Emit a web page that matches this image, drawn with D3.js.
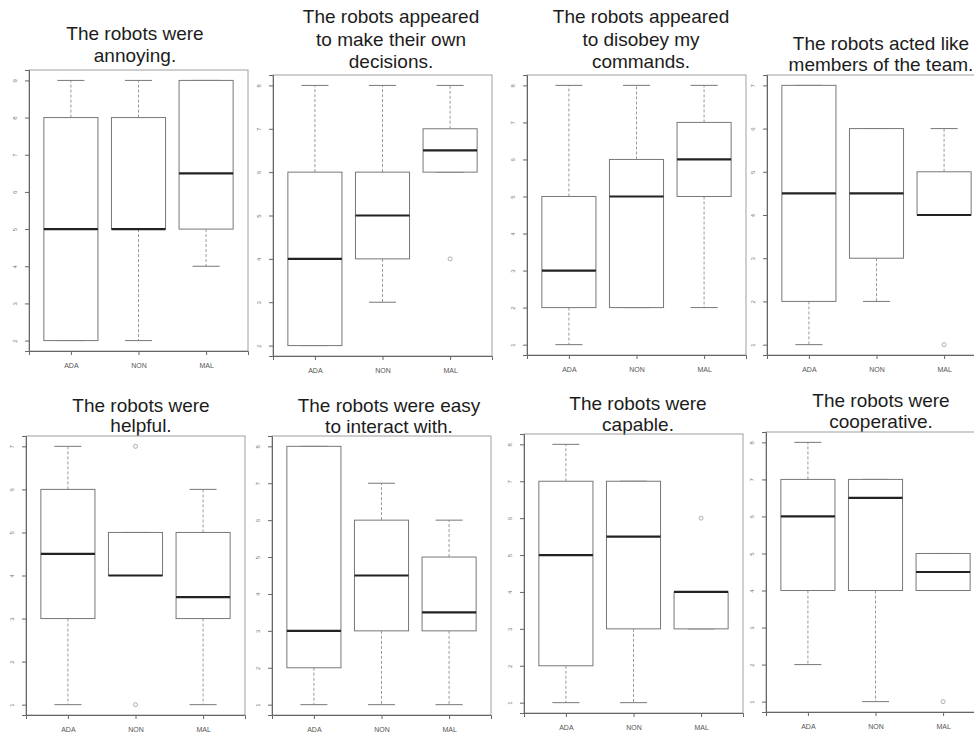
<!DOCTYPE html>
<html>
<head>
<meta charset="utf-8">
<script src="https://cdn.jsdelivr.net/npm/d3@7"></script>
<style>
  body { margin: 0; background: #fff; }
  svg { display: block; }
</style>
</head>
<body>
<div id="chart"></div>
<script>

// data
var groups = ["ADA", "NON", "MAL"];

var titles = [
  ["The robots were", "annoying."],
  ["The robots appeared", "to make their own", "decisions."],
  ["The robots appeared", "to disobey my", "commands."],
  ["The robots acted like", "members of the team."],
  ["The robots were", "helpful."],
  ["The robots were easy", "to interact with."],
  ["The robots were", "capable."],
  ["The robots were", "cooperative."]
];

var yMin = [2, 2, 1, 1, 1, 1, 1, 1];
var yMax = [9, 8, 8, 7, 7, 8, 8, 8];

// one row per panel, one value per group (ADA, NON, MAL)
var whiskerLow  = [[2, 2, 4], [2, 3, 6], [1, 2, 2], [1, 2, 4], [1, 4, 1], [1, 1, 1], [1, 1, 3], [2, 1, 4]];
var q1          = [[2, 5, 5], [2, 4, 6], [2, 2, 5], [2, 3, 4], [3, 4, 3], [2, 3, 3], [2, 3, 3], [4, 4, 4]];
var median      = [[5, 5, 6.5], [4, 5, 6.5], [3, 5, 6], [4.5, 4.5, 4], [4.5, 4, 3.5], [3, 4.5, 3.5], [5, 5.5, 4], [6, 6.5, 4.5]];
var q3          = [[8, 8, 9], [6, 6, 7], [5, 6, 7], [7, 6, 5], [6, 5, 5], [8, 6, 5], [7, 7, 4], [7, 7, 5]];
var whiskerHigh = [[9, 9, 9], [8, 8, 8], [8, 8, 8], [7, 6, 6], [7, 5, 6], [8, 7, 6], [8, 7, 4], [8, 7, 5]];
var outliers    = [[[], [], []], [[], [], [4]], [[], [], []], [[], [], [1]],
                   [[], [7, 1], []], [[], [], []], [[], [], [6]], [[], [], [1]]];

// where each pasted-in plot sits on the page
var panels = [
  {x0: 29,  x1: 248, y0: 70,  y1: 351, tx: 135, ty: [40, 62]},
  {x0: 273, x1: 492, y0: 75,  y1: 356, tx: 391, ty: [23, 46, 68]},
  {x0: 527, x1: 746, y0: 75,  y1: 355, tx: 641, ty: [23, 46, 68]},
  {x0: 767, x1: 986, y0: 75,  y1: 355, tx: 881, ty: [50, 71]},
  {x0: 26,  x1: 245, y0: 436, y1: 715, tx: 141, ty: [412, 432]},
  {x0: 272, x1: 491, y0: 436, y1: 715, tx: 389, ty: [412, 433]},
  {x0: 524, x1: 743, y0: 434, y1: 713, tx: 638, ty: [410, 431]},
  {x0: 766, x1: 985, y0: 432, y1: 712, tx: 881, ty: [407, 428]}
];

var width = 974, height = 737;

var svg = d3.select("#chart")
    .append("svg")
    .attr("width", width)
    .attr("height", height);

panels.forEach(function(p, i) {
    var g = svg.append("g");

    // R style: 4% padding on both axes
    var x = d3.scaleLinear()
        .domain([0.5 - 0.12, 3.5 + 0.12])
        .range([p.x0, p.x1]);
    var r = yMax[i] - yMin[i];
    var y = d3.scaleLinear()
        .domain([yMin[i] - 0.04 * r, yMax[i] + 0.04 * r])
        .range([p.y1, p.y0]);

    // title
    g.append("text")
        .attr("text-anchor", "middle")
        .attr("font-family", "Liberation Sans, Arial, sans-serif")
        .attr("font-size", 19)
        .attr("fill", "#1c1c1c")
        .selectAll("tspan")
        .data(titles[i])
        .enter()
        .append("tspan")
        .attr("x", p.tx)
        .attr("y", function(d, k) { return p.ty[k]; })
        .text(function(d) { return d; });

    // frame
    g.append("rect")
        .attr("x", p.x0)
        .attr("y", p.y0)
        .attr("width", p.x1 - p.x0)
        .attr("height", p.y1 - p.y0)
        .attr("fill", "none")
        .attr("stroke", "#a0a0a0")
        .attr("stroke-width", 1);

    // y axis
    var yTicks = d3.range(yMin[i], yMax[i] + 1);
    var ya = g.append("g")
        .attr("transform", "translate(" + p.x0 + ",0)")
        .call(d3.axisLeft(y).tickValues(yTicks).tickSize(4).tickPadding(6).tickFormat(d3.format("d")));
    ya.select(".domain").attr("stroke", "#666");
    ya.selectAll(".tick line").attr("stroke", "#666");
    ya.selectAll("text")
        .attr("font-family", "Liberation Sans, Arial, sans-serif")
        .attr("font-size", 6)
        .attr("fill", "#777")
        .attr("text-anchor", "middle")
        .attr("x", null)
        .attr("dy", null)
        .attr("transform", "translate(-12,0) rotate(-90)");

    // x axis
    var xa = g.append("g")
        .attr("transform", "translate(0," + p.y1 + ")")
        .call(d3.axisBottom(x).tickValues([1, 2, 3]).tickSize(4).tickPadding(8)
              .tickFormat(function(d) { return groups[d - 1]; }));
    xa.select(".domain").attr("stroke", "#666");
    xa.selectAll(".tick line").attr("stroke", "#666");
    xa.selectAll("text")
        .attr("font-family", "Liberation Sans Narrow, Liberation Sans, Arial, sans-serif")
        .attr("font-size", 7)
        .attr("fill", "#555");

    var boxHalf = 0.4, capHalf = 0.2;

    groups.forEach(function(grp, j) {
        var cx = j + 1;
        var bg = g.append("g");

        // dashed whiskers
        bg.append("line")
            .attr("x1", x(cx)).attr("x2", x(cx))
            .attr("y1", y(q3[i][j])).attr("y2", y(whiskerHigh[i][j]))
            .attr("stroke", "#999").attr("stroke-dasharray", "3,2");
        bg.append("line")
            .attr("x1", x(cx)).attr("x2", x(cx))
            .attr("y1", y(q1[i][j])).attr("y2", y(whiskerLow[i][j]))
            .attr("stroke", "#999").attr("stroke-dasharray", "3,2");

        // caps
        [whiskerLow[i][j], whiskerHigh[i][j]].forEach(function(v) {
            bg.append("line")
                .attr("x1", x(cx - capHalf)).attr("x2", x(cx + capHalf))
                .attr("y1", y(v)).attr("y2", y(v))
                .attr("stroke", "#777");
        });

        // box
        bg.append("rect")
            .attr("x", x(cx - boxHalf))
            .attr("y", y(q3[i][j]))
            .attr("width", x(cx + boxHalf) - x(cx - boxHalf))
            .attr("height", y(q1[i][j]) - y(q3[i][j]))
            .attr("fill", "#fff")
            .attr("stroke", "#777");

        // median
        bg.append("line")
            .attr("x1", x(cx - boxHalf)).attr("x2", x(cx + boxHalf))
            .attr("y1", y(median[i][j])).attr("y2", y(median[i][j]))
            .attr("stroke", "#222").attr("stroke-width", 2.2);

        // outliers
        bg.selectAll("circle")
            .data(outliers[i][j])
            .enter()
            .append("circle")
            .attr("cx", x(cx))
            .attr("cy", function(d) { return y(d); })
            .attr("r", 2)
            .attr("fill", "none")
            .attr("stroke", "#999")
            .attr("stroke-width", 0.8);
    });
});

</script>
</body>
</html>
